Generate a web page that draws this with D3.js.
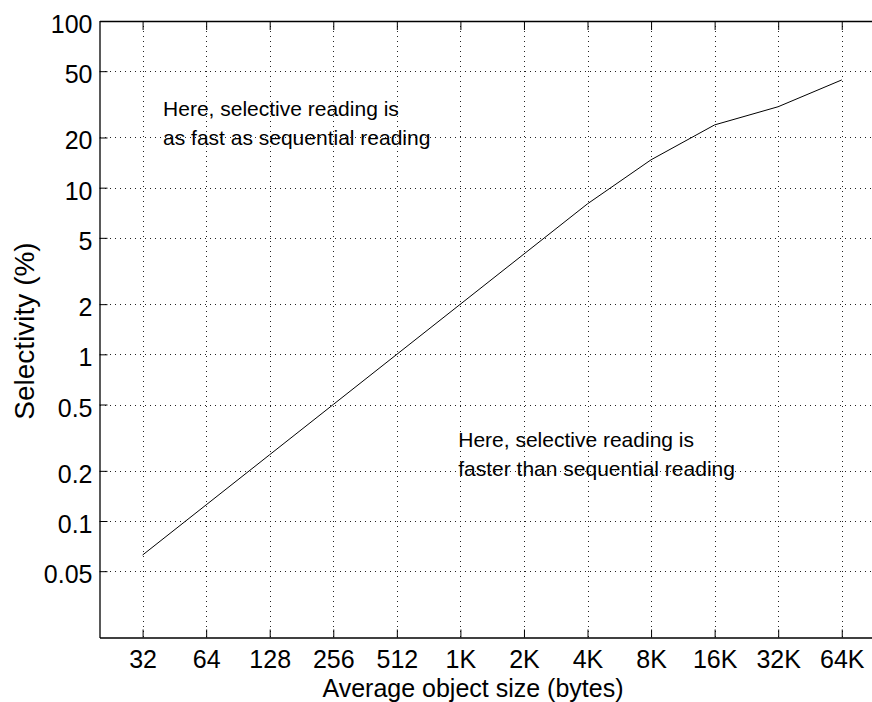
<!DOCTYPE html>
<html>
<head>
<meta charset="utf-8">
<script src="https://cdn.jsdelivr.net/npm/d3@7"></script>
<style>
  body { margin: 0; background: #fff; }
  svg { display: block; font-family: "Liberation Sans", Arial, sans-serif; }
</style>
</head>
<body>
<svg id="chart" width="872" height="702"></svg>
<script>
// object sizes in bytes and the tick labels that go with them
var sizes = [32, 64, 128, 256, 512, 1024, 2048, 4096, 8192, 16384, 32768, 65536];
var sizeLabels = ["32", "64", "128", "256", "512", "1K", "2K", "4K", "8K", "16K", "32K", "64K"];
// selectivity (%) where selective reading breaks even
var selectivity = [0.0625, 0.125, 0.25, 0.5, 1, 2, 4, 8, 14.7, 23.8, 30.6, 44.3];
var yTicks = [0.05, 0.1, 0.2, 0.5, 1, 2, 5, 10, 20, 50, 100];

var plotLeft = 99.5, plotTop = 21, plotBottom = 637.5, plotRight = 880.5;

var svg = d3.select("#chart");

var x = d3.scaleLog().base(2).domain([20, 100000]).range([plotLeft, plotRight]);
var y = d3.scaleLog().domain([0.02, 100]).range([plotBottom, plotTop]);

// dotted grid
var grid = svg.append("g")
  .attr("stroke", "#222")
  .attr("stroke-width", 1)
  .attr("stroke-dasharray", "1,4")
  .attr("shape-rendering", "crispEdges");

grid.selectAll("line.v").data(sizes).enter().append("line")
  .attr("class", "v")
  .attr("x1", function(d) { return Math.round(x(d)) + 0.5; })
  .attr("x2", function(d) { return Math.round(x(d)) + 0.5; })
  .attr("y1", plotTop).attr("y2", plotBottom);

grid.selectAll("line.h").data(yTicks).enter().append("line")
  .attr("class", "h")
  .attr("y1", function(d) { return Math.round(y(d)) + 0.5; })
  .attr("y2", function(d) { return Math.round(y(d)) + 0.5; })
  .attr("x1", Math.ceil(plotLeft)).attr("x2", plotRight);

// axes
var xAxis = svg.append("g")
  .attr("transform", "translate(0," + plotBottom + ")")
  .call(d3.axisBottom(x).tickValues(sizes)
    .tickFormat(function(d, i) { return sizeLabels[i]; })
    .tickSizeInner(-8).tickSizeOuter(0).tickPadding(0));

var xTop = svg.append("g")
  .attr("transform", "translate(0," + plotTop + ")")
  .call(d3.axisTop(x).tickValues(sizes).tickFormat("")
    .tickSizeInner(-9).tickSizeOuter(0));

var yAxis = svg.append("g")
  .attr("transform", "translate(" + plotLeft + ",0)")
  .call(d3.axisLeft(y).tickValues(yTicks)
    .tickFormat(function(d) { return String(d); })
    .tickSizeInner(-8).tickSizeOuter(0).tickPadding(0));

[xAxis, xTop, yAxis].forEach(function(g) {
  g.select(".domain").attr("stroke", "#000").attr("stroke-width", 1.3);
  g.selectAll(".tick line").attr("stroke", "#000");
  g.selectAll("text")
    .attr("font-family", "Liberation Sans, Arial, sans-serif")
    .attr("font-size", 25)
    .attr("fill", "#000");
});
xAxis.selectAll("text").attr("y", 30).attr("dy", 0);
yAxis.selectAll("text").attr("x", -7).attr("dy", 11.5);

// the break-even line
var line = d3.line()
  .x(function(d, i) { return x(sizes[i]); })
  .y(function(d) { return y(d); });

svg.append("path")
  .datum(selectivity)
  .attr("d", line)
  .attr("fill", "none")
  .attr("stroke", "#000")
  .attr("stroke-width", 1);

// notes
var notes = [
  { lines: ["Here, selective reading is", "as fast as sequential reading"], sx: 40, sy: 26.9 },
  { lines: ["Here, selective reading is", "faster than sequential reading"], sx: 1000, sy: 0.279 }
];
notes.forEach(function(n) {
  var t = svg.append("text")
    .attr("x", x(n.sx)).attr("y", y(n.sy))
    .attr("font-size", 21).attr("fill", "#000");
  n.lines.forEach(function(s, i) {
    t.append("tspan").attr("x", x(n.sx)).attr("dy", i ? 29 : 0).text(s);
  });
});

// axis titles
svg.append("text")
  .attr("x", 473).attr("y", 697)
  .attr("text-anchor", "middle")
  .attr("font-size", 25)
  .text("Average object size (bytes)");

svg.append("text")
  .attr("transform", "translate(34,331) rotate(-90)")
  .attr("text-anchor", "middle")
  .attr("font-size", 28)
  .text("Selectivity (%)");
</script>
</body>
</html>
